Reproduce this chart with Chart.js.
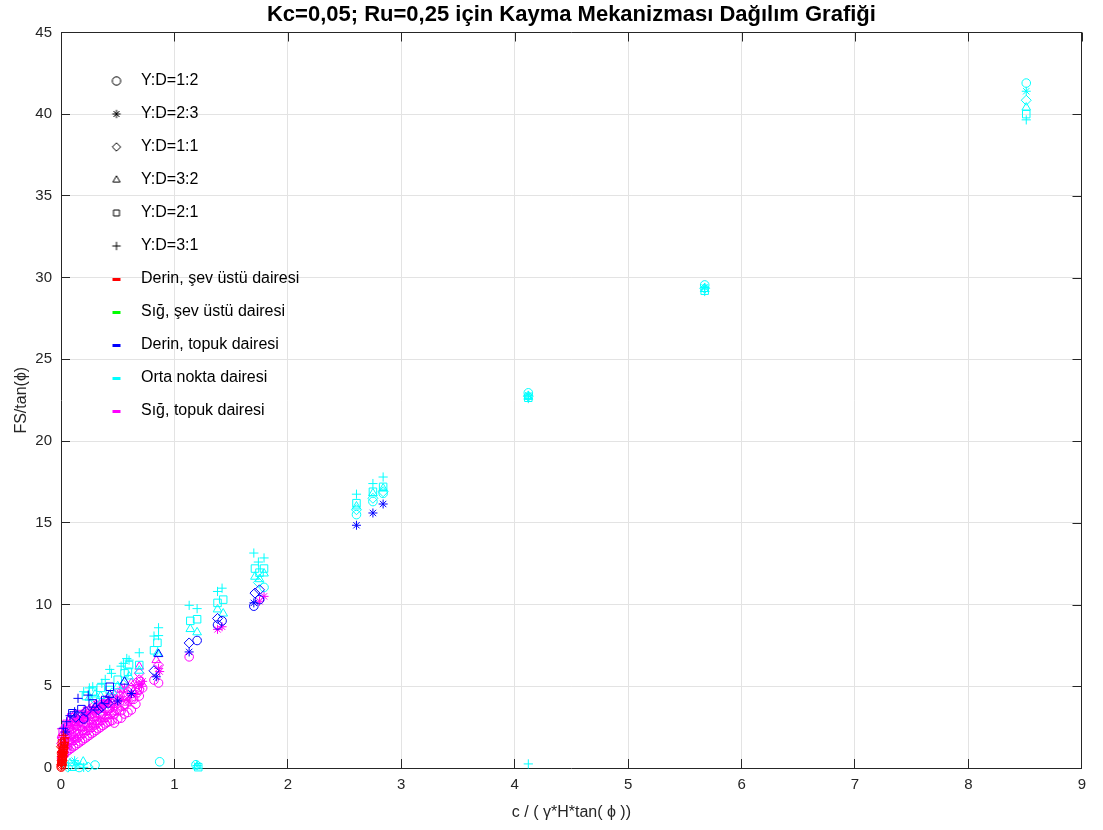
<!DOCTYPE html>
<html>
<head>
<meta charset="utf-8">
<style>
  html, body { margin: 0; padding: 0; background: #fff; }
  #kap { width: 1103px; height: 830px; position: relative; }
</style>
</head>
<body>
<div id="kap"><canvas id="dagilim"></canvas></div>

<script src="https://cdn.jsdelivr.net/npm/chart.js"></script>

<script>
  // Y:D oranları ve işaretleri
  const oranlar = ['Y:D=1:2', 'Y:D=2:3', 'Y:D=1:1', 'Y:D=3:2', 'Y:D=2:1', 'Y:D=3:1'];
  const isaretler = ['circle', 'star', 'rectRot', 'triangle', 'rect', 'cross'];
  const isaretBoyu = [4.3, 4.5, 5, 5, 5.3, 4.6];

  // kayma mekanizmaları
  const mekanizmalar = ['Derin, şev üstü dairesi', 'Sığ, şev üstü dairesi', 'Derin, topuk dairesi', 'Orta nokta dairesi', 'Sığ, topuk dairesi'];
  const renkler = ['#ff0000', '#00ff00', '#0000ff', '#00ffff', '#ff00ff'];

  const xTikler = [0, 1, 2, 3, 4, 5, 6, 7, 8, 9];
  const yTikler = [0, 5, 10, 15, 20, 25, 30, 35, 40, 45];

  // [c/(γHtanϕ), FS/tanϕ, oran indeksi]
  const derinSevUstu = [
    [0.002, 0.05, 0], [0.004, 0.12, 0], [0.006, 0.25, 0], [0.008, 0.4, 0], [0.01, 0.6, 0], [0.005, 0.9, 0],
    [0.004, 0.15, 1], [0.007, 0.35, 1], [0.01, 0.55, 1], [0.015, 0.75, 1], [0.02, 1.0, 1], [0.003, 0.7, 1],
    [0.006, 0.2, 2], [0.01, 0.45, 2], [0.014, 0.7, 2], [0.018, 0.95, 2], [0.022, 1.2, 2], [0.004, 1.3, 2],
    [0.008, 0.3, 3], [0.012, 0.6, 3], [0.016, 0.9, 3], [0.02, 1.15, 3], [0.025, 1.4, 3], [0.006, 1.1, 3],
    [0.01, 0.4, 4], [0.015, 0.75, 4], [0.02, 1.05, 4], [0.025, 1.35, 4], [0.03, 1.6, 4], [0.008, 1.5, 4],
    [0.012, 0.5, 5], [0.018, 0.9, 5], [0.024, 1.25, 5], [0.03, 1.55, 5], [0.035, 1.85, 5], [0.02, 2.0, 5]
  ];

  const sigSevUstu = [];

  const derinTopuk = [
    [2.605, 14.85, 1], [2.75, 15.6, 1], [2.84, 16.15, 1],
    [1.70, 9.9, 0], [1.75, 10.3, 0], [1.70, 10.1, 1], [1.71, 10.7, 2], [1.75, 10.9, 2],
    [1.38, 8.75, 0], [1.42, 9.0, 0], [1.38, 9.15, 2],
    [1.20, 7.8, 0], [1.13, 7.1, 1], [1.13, 7.65, 2],
    [0.84, 5.58, 1], [0.82, 5.95, 2], [0.86, 6.97, 3],
    [0.62, 4.56, 1], [0.5, 4.1, 1], [0.56, 5.28, 3], [0.43, 4.46, 3], [0.3, 3.7, 3],
    [0.43, 4.97, 4], [0.39, 4.16, 4], [0.28, 3.95, 4], [0.18, 3.6, 4], [0.1, 3.35, 4],
    [0.415, 3.95, 2], [0.36, 3.75, 2], [0.33, 3.55, 2], [0.22, 3.45, 2], [0.13, 3.1, 2], [0.2, 3.0, 0], [0.04, 2.2, 1],
    [0.24, 4.46, 5], [0.15, 4.26, 5], [0.12, 3.44, 5], [0.08, 3.2, 5], [0.05, 2.83, 5], [0.02, 2.43, 5]
  ];

  const ortaNokta = [
    [8.51, 41.9, 0], [8.51, 41.4, 1], [8.51, 40.85, 2], [8.51, 40.4, 3], [8.51, 40.0, 4], [8.51, 39.65, 5],
    [5.675, 29.55, 0], [5.675, 29.4, 1], [5.675, 29.35, 2], [5.675, 29.3, 3], [5.675, 29.2, 4], [5.675, 29.15, 5],
    [4.12, 22.95, 0], [4.12, 22.8, 1], [4.12, 22.75, 2], [4.12, 22.7, 3], [4.12, 22.65, 4], [4.12, 22.6, 5],
    [4.12, 0.25, 5],
    [2.605, 15.5, 0], [2.605, 15.8, 2], [2.605, 16.0, 3], [2.605, 16.2, 4], [2.605, 16.75, 5],
    [2.75, 16.3, 0], [2.75, 16.5, 2], [2.75, 16.8, 3], [2.75, 16.9, 4], [2.75, 17.4, 5],
    [2.84, 16.8, 0], [2.84, 16.9, 2], [2.84, 17.1, 3], [2.84, 17.2, 4], [2.84, 17.8, 5],
    [1.79, 11.05, 0], [1.74, 11.35, 2], [1.71, 11.7, 3], [1.79, 11.9, 3], [1.75, 11.55, 3],
    [1.71, 12.2, 4], [1.79, 12.2, 4], [1.75, 11.95, 4], [1.70, 13.15, 5], [1.74, 12.6, 5], [1.79, 12.85, 5],
    [1.38, 9.7, 3], [1.43, 9.45, 3], [1.38, 10.1, 4], [1.43, 10.3, 4], [1.38, 10.8, 5], [1.42, 11.0, 5],
    [1.14, 8.5, 3], [1.20, 8.3, 3], [1.14, 9.0, 4], [1.20, 9.1, 4], [1.13, 9.95, 5], [1.20, 9.75, 5],
    [1.19, 0.2, 0], [1.2, 0.15, 1], [1.2, 0.1, 3], [1.21, 0.05, 4],
    [0.85, 7.0, 3], [0.85, 7.66, 4], [0.82, 7.2, 4], [0.82, 8.07, 5], [0.86, 8.1, 5], [0.86, 8.58, 5],
    [0.87, 0.38, 0],
    [0.69, 7.05, 5], [0.58, 6.7, 5], [0.55, 6.4, 5], [0.53, 6.23, 5], [0.43, 6.03, 5], [0.445, 5.79, 5],
    [0.39, 5.42, 5], [0.36, 5.18, 5], [0.28, 4.97, 5], [0.25, 4.9, 5], [0.2, 4.67, 5], [0.6, 6.6, 5],
    [0.69, 6.3, 4], [0.6, 6.3, 4], [0.59, 5.89, 4], [0.56, 5.79, 4], [0.5, 5.4, 4], [0.43, 4.77, 4],
    [0.35, 4.9, 4], [0.28, 4.67, 4], [0.22, 4.4, 4],
    [0.69, 5.95, 3], [0.6, 5.6, 3], [0.5, 5.0, 3], [0.35, 4.4, 3], [0.3, 4.5, 3], [0.25, 4.3, 3],
    [0.45, 4.6, 2], [0.55, 5.1, 2], [0.3, 4.2, 0],
    [0.3, 0.18, 0], [0.12, 0.45, 1], [0.15, 0.2, 1], [0.196, 0.39, 3], [0.08, 0.29, 3],
    [0.06, 0.05, 2], [0.1, 0.08, 4], [0.2, 0.04, 5], [0.16, 0.03, 0], [0.24, 0.06, 2]
  ];

  const sigTopuk = [
    [0.005, 0.6, 0], [0.005, 1.0, 1], [0.005, 1.5, 2], [0.005, 2.0, 3], [0.005, 2.4, 5],
    [0.01, 1.1, 3], [0.01, 1.9, 0], [0.02, 0.7, 2], [0.02, 1.6, 5],
    [0.015, 0.8, 0], [0.015, 1.3, 1], [0.015, 1.8, 2], [0.015, 2.2, 4],
    [0.03, 0.9, 0], [0.03, 1.4, 2], [0.03, 1.9, 3], [0.03, 2.5, 5],
    [0.04, 1.2, 0], [0.04, 2.2, 2],
    [0.05, 1.0, 0], [0.05, 1.5, 1], [0.05, 2.0, 2], [0.05, 2.4, 3], [0.05, 2.7, 4],
    [0.06, 1.3, 3], [0.06, 2.3, 0],
    [0.07, 1.1, 0], [0.07, 1.6, 0], [0.07, 2.1, 1], [0.07, 2.6, 2], [0.07, 2.9, 3],
    [0.08, 1.5, 2], [0.08, 2.5, 0],
    [0.09, 1.2, 0], [0.09, 1.8, 1], [0.09, 2.3, 2], [0.09, 2.8, 3], [0.09, 3.1, 4],
    [0.1, 1.6, 3], [0.1, 2.6, 1],
    [0.11, 1.3, 0], [0.11, 1.9, 0], [0.11, 2.4, 1], [0.11, 2.9, 2], [0.11, 3.2, 3],
    [0.12, 1.7, 2], [0.12, 2.7, 0],
    [0.13, 1.4, 0], [0.13, 2.0, 1], [0.13, 2.6, 2], [0.13, 3.0, 3],
    [0.14, 1.8, 3], [0.14, 2.8, 1],
    [0.15, 1.5, 0], [0.15, 2.1, 0], [0.15, 2.6, 1], [0.15, 3.0, 2], [0.15, 3.3, 4],
    [0.16, 1.9, 2], [0.16, 2.9, 0],
    [0.17, 1.6, 0], [0.17, 2.3, 1], [0.17, 2.8, 2], [0.17, 3.2, 3],
    [0.18, 2.0, 3], [0.18, 3.0, 1],
    [0.19, 1.7, 0], [0.19, 2.3, 0], [0.19, 2.9, 1], [0.19, 3.3, 2],
    [0.2, 2.1, 2], [0.2, 3.1, 0],
    [0.21, 1.8, 0], [0.21, 2.5, 1], [0.21, 3.0, 2], [0.21, 3.4, 3],
    [0.22, 2.2, 3], [0.22, 3.2, 1],
    [0.23, 1.9, 0], [0.23, 2.6, 0], [0.23, 3.1, 1], [0.23, 3.5, 4],
    [0.24, 2.3, 2], [0.24, 3.3, 0],
    [0.25, 2.0, 0], [0.25, 2.7, 1], [0.25, 3.2, 2], [0.25, 3.6, 3],
    [0.26, 2.4, 3], [0.26, 3.4, 1],
    [0.27, 2.1, 0], [0.27, 2.8, 0], [0.27, 3.3, 2],
    [0.28, 2.5, 2], [0.28, 3.5, 0],
    [0.29, 2.2, 0], [0.29, 2.9, 1], [0.29, 3.5, 3], [0.29, 3.8, 2],
    [0.3, 2.6, 3], [0.3, 3.6, 1],
    [0.31, 2.3, 0], [0.31, 2.9, 0], [0.31, 3.4, 1], [0.31, 3.9, 3],
    [0.32, 2.7, 2], [0.32, 3.7, 0],
    [0.33, 2.4, 0], [0.33, 3.1, 1], [0.33, 3.6, 2],
    [0.34, 2.8, 3], [0.34, 3.8, 1],
    [0.35, 2.5, 0], [0.35, 3.2, 0], [0.35, 3.7, 1], [0.35, 4.0, 3],
    [0.36, 2.9, 2], [0.36, 3.9, 0],
    [0.37, 2.6, 0], [0.37, 3.3, 2], [0.37, 3.9, 3],
    [0.38, 3.0, 3], [0.38, 4.0, 1],
    [0.39, 2.7, 0], [0.39, 3.4, 1], [0.39, 4.1, 2],
    [0.4, 3.1, 2], [0.4, 4.1, 0],
    [0.41, 2.8, 0], [0.41, 3.5, 0], [0.41, 4.0, 1], [0.41, 4.3, 3],
    [0.42, 3.2, 3],
    [0.43, 2.85, 0], [0.43, 3.6, 2], [0.43, 4.2, 1],
    [0.44, 3.3, 2], [0.44, 4.0, 0],
    [0.45, 2.9, 0], [0.45, 3.7, 1], [0.45, 4.3, 2],
    [0.46, 3.4, 3],
    [0.47, 2.75, 0], [0.47, 3.3, 0], [0.47, 3.9, 1], [0.47, 4.5, 3],
    [0.48, 3.5, 2], [0.48, 4.2, 0],
    [0.5, 3.0, 0], [0.5, 3.6, 0], [0.5, 4.1, 1], [0.5, 4.6, 2],
    [0.52, 3.7, 3], [0.52, 4.4, 0],
    [0.53, 3.05, 0], [0.53, 3.5, 0], [0.53, 4.2, 1], [0.53, 4.8, 3],
    [0.55, 3.8, 2], [0.55, 4.6, 0],
    [0.56, 3.3, 0], [0.56, 3.9, 0], [0.56, 4.4, 2], [0.56, 4.9, 1],
    [0.58, 4.0, 3], [0.58, 4.4, 0],
    [0.59, 3.4, 0], [0.59, 4.1, 1], [0.59, 4.7, 2],
    [0.61, 4.3, 1],
    [0.62, 3.55, 0], [0.62, 4.2, 0], [0.62, 4.9, 2], [0.62, 5.2, 3],
    [0.64, 4.2, 0], [0.64, 4.7, 3],
    [0.66, 3.9, 0], [0.66, 4.5, 1], [0.66, 5.2, 2],
    [0.67, 4.6, 0], [0.67, 5.0, 2],
    [0.69, 4.4, 0], [0.69, 4.8, 0], [0.69, 5.1, 1], [0.69, 5.4, 2], [0.69, 5.8, 2], [0.69, 6.2, 3],
    [0.7, 5.3, 0],
    [0.72, 4.9, 0], [0.72, 5.3, 1], [0.71, 5.0, 1],
    [0.82, 5.38, 0], [0.86, 5.2, 0], [0.87, 5.9, 1], [0.86, 6.3, 2], [0.84, 6.6, 3], [0.86, 6.1, 1],
    [1.13, 6.8, 0],
    [1.38, 8.48, 1], [1.42, 8.64, 1],
    [1.75, 10.2, 1], [1.79, 10.5, 1]
  ];

  const seriler = [derinSevUstu, sigSevUstu, derinTopuk, ortaNokta, sigTopuk];
  const cizimSirasi = [0, 3, 1, 2, 4];

  const datasets = [];
  seriler.forEach((seri, m) => {
    isaretler.forEach((isaret, r) => {
      const noktalar = seri.filter(p => p[2] === r).map(p => ({ x: p[0], y: p[1] }));
      if (!noktalar.length) return;
      datasets.push({
        label: mekanizmalar[m] + ' ' + oranlar[r],
        data: noktalar,
        pointStyle: isaret,
        pointRadius: isaretBoyu[r],
        pointHoverRadius: isaretBoyu[r],
        pointBorderWidth: 1,
        borderColor: renkler[m],
        backgroundColor: 'rgba(0,0,0,0)',
        showLine: false,
        clip: false,
        order: cizimSirasi[m]
      });
    });
  });

  // lejant işaretleri küçük tuvallere çizilir
  function isaretTuvali(stil, renk) {
    const c = document.createElement('canvas');
    c.width = 16; c.height = 16;
    const g = c.getContext('2d');
    if (stil === 'cizgi') {
      g.fillStyle = renk;
      g.fillRect(4, 7, 8, 3);
    } else {
      g.strokeStyle = renk;
      g.fillStyle = 'rgba(0,0,0,0)';
      g.lineWidth = 1;
      Chart.helpers.drawPoint(g, { pointStyle: stil, radius: 4.2, borderWidth: 1, rotation: 0 }, 8, 8);
    }
    return c;
  }

  const lejantOgeleri = oranlar.map((o, i) => ({ text: o, stil: isaretTuvali(isaretler[i], '#000') }))
    .concat(mekanizmalar.map((m, i) => ({ text: m, stil: isaretTuvali('cizgi', renkler[i]) })));

  const lejantKaydir = {
    id: 'lejantKaydir',
    afterLayout(chart) {
      const l = chart.legend;
      l.left += 22; l.right += 22;
      l.top += 56; l.bottom += 56;
    }
  };

  const kutu = {
    id: 'kutu',
    afterDatasetsDraw(chart) {
      const { ctx, chartArea: a, scales } = chart;
      const ust = Math.round(a.top) + 0.5;
      const sag = Math.round(a.right) - 0.5;
      ctx.save();
      ctx.strokeStyle = '#262626';
      ctx.lineWidth = 1;
      ctx.beginPath();
      ctx.moveTo(Math.round(a.left), ust); ctx.lineTo(sag + 0.5, ust);
      ctx.moveTo(sag, Math.round(a.top)); ctx.lineTo(sag, Math.round(a.bottom));
      scales.x.ticks.forEach(t => {
        const px = Math.round(scales.x.getPixelForValue(t.value)) + 0.5;
        ctx.moveTo(px, ust); ctx.lineTo(px, ust + 9);
      });
      scales.y.ticks.forEach(t => {
        const py = Math.round(scales.y.getPixelForValue(t.value)) + 0.5;
        ctx.moveTo(sag, py); ctx.lineTo(sag - 9, py);
      });
      ctx.stroke();
      ctx.restore();
    }
  };

  const aile = '"Liberation Sans", Arial, Helvetica, sans-serif';
  const yazi = { family: aile, size: 15 };
  const etiket = { family: aile, size: 16 };

  new Chart(document.getElementById('dagilim'), {
    type: 'scatter',
    data: { datasets },
    plugins: [lejantKaydir, kutu],
    options: {
      responsive: true,
      maintainAspectRatio: false,
      animation: false,
      layout: { padding: { left: 0, right: 16, top: 0, bottom: 0 } },
      plugins: {
        tooltip: { enabled: false },
        title: {
          display: true,
          text: 'Kc=0,05; Ru=0,25 için Kayma Mekanizması Dağılım Grafiği',
          fullSize: false,
          color: '#000',
          font: { family: aile, size: 22, weight: 'bold' },
          padding: { top: 2, bottom: 4 }
        },
        legend: {
          position: 'chartArea',
          align: 'start',
          onClick: () => {},
          labels: {
            usePointStyle: true,
            pointStyleWidth: 33,
            boxHeight: 6,
            padding: 17,
            color: '#000',
            font: etiket,
            generateLabels: () => lejantOgeleri.map(o => ({
              text: o.text,
              pointStyle: o.stil,
              fillStyle: 'rgba(0,0,0,0)',
              strokeStyle: 'rgba(0,0,0,0)',
              lineWidth: 0,
              hidden: false,
              fontColor: '#000'
            }))
          }
        }
      },
      scales: {
        x: {
          type: 'linear',
          min: xTikler[0],
          max: xTikler[xTikler.length - 1],
          afterFit: s => { s.height = 62; },
          ticks: { stepSize: 1, color: '#262626', font: yazi, padding: 17, maxRotation: 0 },
          grid: { color: '#e3e3e3', tickColor: '#262626', tickLength: -9 },
          border: { color: '#262626' },
          title: { display: true, text: 'c / ( γ*H*tan( ϕ ))', color: '#262626', font: etiket, padding: { top: 0, bottom: 8 } }
        },
        y: {
          type: 'linear',
          min: yTikler[0],
          max: yTikler[yTikler.length - 1],
          afterFit: s => { s.width = 61; },
          ticks: { stepSize: 5, color: '#262626', font: yazi, padding: 18 },
          grid: { color: '#e3e3e3', tickColor: '#262626', tickLength: -9 },
          border: { color: '#262626' },
          title: { display: true, text: 'FS/tan(ϕ)', color: '#262626', font: etiket, padding: { top: 12, bottom: 0 } }
        }
      }
    }
  });
</script>
</body>
</html>
